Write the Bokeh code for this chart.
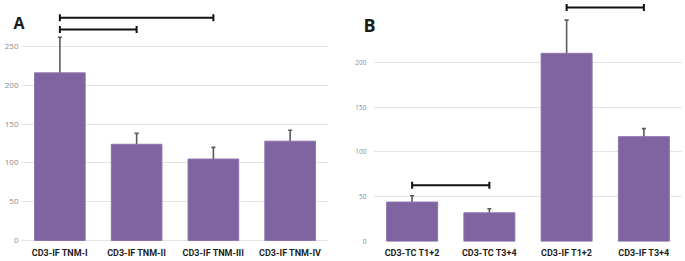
import math
from bokeh.plotting import figure
from bokeh.layouts import row
from bokeh.models import (ColumnDataSource, FactorRange, Range1d, FixedTicker,
                          Whisker, TeeHead)
from bokeh.embed import file_html
from bokeh.resources import INLINE

# ---------------- data ----------------
cats_a = ["CD3-IF TNM-I", "CD3-IF TNM-II", "CD3-IF TNM-III", "CD3-IF TNM-IV"]
vals_a = [216, 124, 105, 128]
err_lo_a = [171, 109, 90, 114]
err_hi_a = [262, 138, 120, 142]
br_from_a = ["CD3-IF TNM-I", "CD3-IF TNM-I"]
br_to_a = ["CD3-IF TNM-III", "CD3-IF TNM-II"]
br_y_a = [287, 272]
ticks_a = [0, 50, 100, 150, 200, 250]

cats_b = ["CD3-TC T1+2", "CD3-TC T3+4", "CD3-IF T1+2", "CD3-IF T3+4"]
vals_b = [44, 32, 210, 117]
err_lo_b = [37, 28.5, 173, 108]
err_hi_b = [51, 36.5, 247, 126]
br_from_b = ["CD3-TC T1+2", "CD3-IF T1+2"]
br_to_b = ["CD3-TC T3+4", "CD3-IF T3+4"]
br_y_b = [62.7, 261]
ticks_b = [0, 50, 100, 150, 200]

BAR = "#8064a2"
ERR = "#5a5a5a"
GRID = "#e4e4e4"
TICK = "#8a8a8a"
XFONT = "Roboto"


def make_panel(cats, vals, lo, hi, bfrom, bto, by, ticks, yr, w, h,
               borders, tick_size, standoff, letter, loff, lstand, lsize):
    p = figure(x_range=FactorRange(*cats), y_range=Range1d(*yr),
               width=w, height=h, output_backend="svg", toolbar_location=None,
               min_border_left=borders[0], min_border_right=borders[1],
               min_border_top=borders[2], min_border_bottom=borders[3])
    p.outline_line_color = None
    p.background_fill_color = "white"
    p.border_fill_color = "white"
    p.xgrid.grid_line_color = None
    p.ygrid.grid_line_color = GRID
    p.ygrid.grid_line_width = 1
    p.yaxis.ticker = FixedTicker(ticks=ticks)
    for ax in (p.xaxis[0], p.yaxis[0]):
        ax.axis_line_color = None
        ax.major_tick_line_color = None
        ax.minor_tick_line_color = None
        ax.major_tick_out = 0
        ax.major_tick_in = 0
        ax.minor_tick_out = 0
        ax.minor_tick_in = 0
    p.yaxis.major_label_text_font = "Open Sans"
    p.yaxis.major_label_text_font_size = tick_size
    p.yaxis.major_label_text_color = TICK
    p.yaxis.major_label_standoff = standoff
    p.xaxis.major_label_text_font = XFONT
    p.xaxis.major_label_text_font_style = "bold"
    p.xaxis.major_label_text_font_size = "9px"
    p.xaxis.major_label_text_color = "#1e1e1e"
    p.xaxis.major_label_standoff = 6

    src = ColumnDataSource(dict(x=cats, top=vals, lo=lo, hi=hi))
    p.vbar(x="x", top="top", width=0.66, source=src, fill_color=BAR,
           line_color="#8d74ad", line_width=1)
    wh = Whisker(base="x", upper="hi", lower="lo", source=src,
                 dimension="height", line_color=ERR, line_width=1.6,
                 upper_head=TeeHead(size=4, line_color=ERR, line_width=1.6),
                 lower_head=TeeHead(size=4, line_color=ERR, line_width=1.6))
    p.add_layout(wh)

    bsrc = ColumnDataSource(dict(x0=bfrom, x1=bto, y=by))
    p.segment(x0="x0", y0="y", x1="x1", y1="y", source=bsrc,
              line_color="#111111", line_width=2)
    p.scatter(x="x0", y="y", source=bsrc, marker="dash", angle=math.pi / 2,
              size=7, line_color="#111111", line_width=2)
    p.scatter(x="x1", y="y", source=bsrc, marker="dash", angle=math.pi / 2,
              size=7, line_color="#111111", line_width=2)

    p.title.text = letter
    p.title.align = "left"
    p.title.vertical_align = "bottom"
    p.title.offset = loff
    p.title.standoff = lstand
    p.title.text_font = "Open Sans"
    p.title.text_font_style = "bold"
    p.title.text_font_size = lsize
    p.title.text_color = "#1a1a1a"
    return p


pa = make_panel(cats_a, vals_a, err_lo_a, err_hi_a, br_from_a, br_to_a, br_y_a,
                ticks_a, (-1.3, 305.4), 340, 261, (21, 12, 3, 20), "8px", 3,
                "A", -8, -60, "16px")
pb = make_panel(cats_b, vals_b, err_lo_b, err_hi_b, br_from_b, br_to_b, br_y_b,
                ticks_b, (0, 265.6), 345, 261, (33, 3, 3, 20), "6.5px", 7,
                "B", -10, -67, "18px")

layout = row(pa, pb)
open("out.html", "w").write(file_html(layout, INLINE))
